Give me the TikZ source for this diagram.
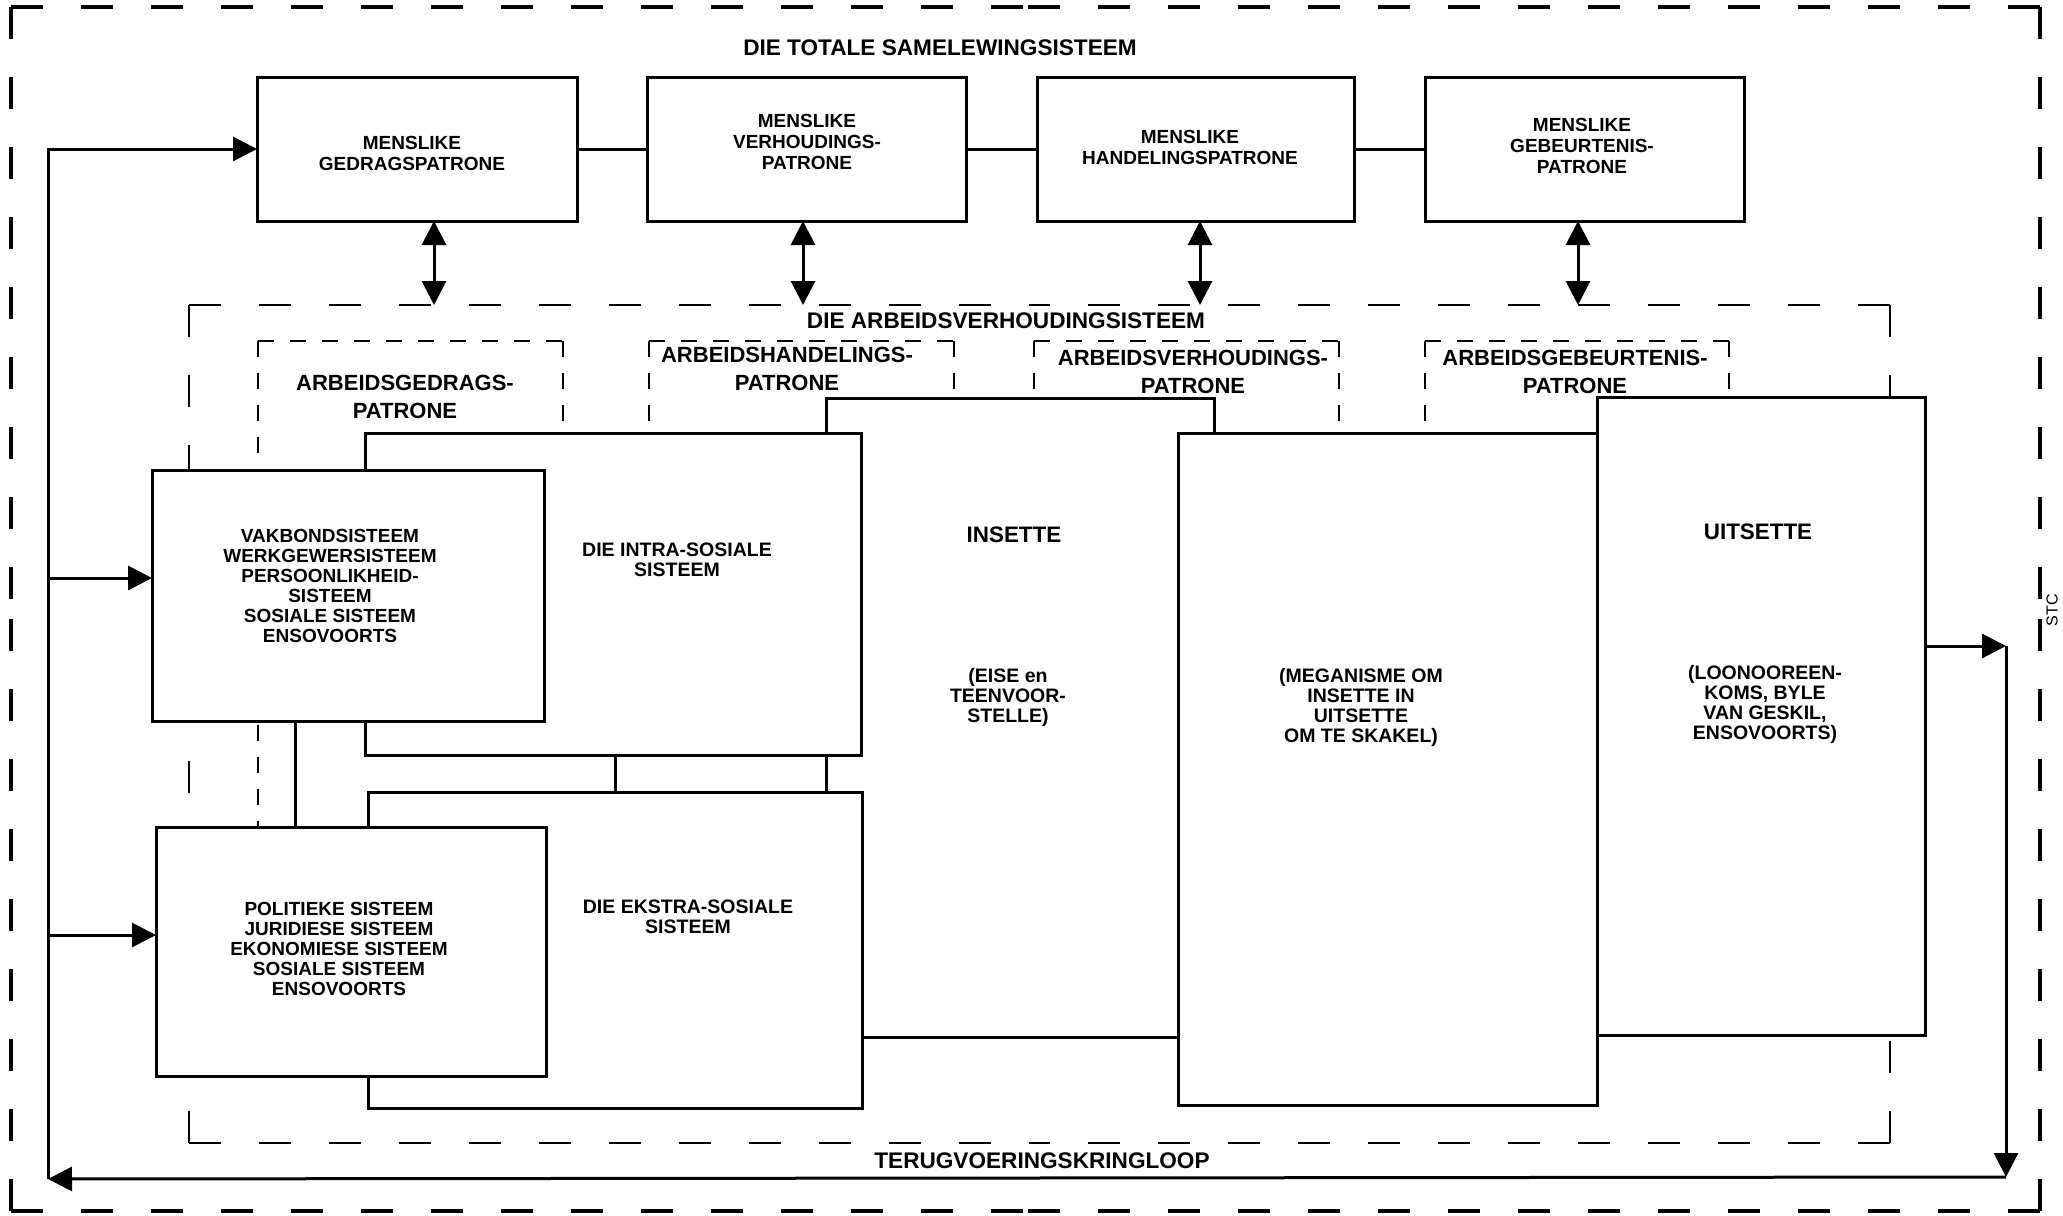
\documentclass[tikz,border=0pt]{standalone}
\usepackage{fontspec}
\setmainfont{Liberation Sans}
\usetikzlibrary{arrows.meta,fit,calc}
\newcommand{\fTitle}{\fontsize{11.3}{13}\selectfont\bfseries}
\newcommand{\fBox}{\fontsize{9.5}{10.5}\selectfont\bfseries}
\newcommand{\fLab}{\fontsize{11}{14}\selectfont\bfseries}
\newcommand{\fBig}{\fontsize{11.2}{13}\selectfont\bfseries}
\newcommand{\fDesc}{\fontsize{9.75}{10}\selectfont\bfseries}
\newcommand{\fList}{\fontsize{9.5}{10}\selectfont\bfseries}
\newcommand{\dside}[3]{\draw[#1] (#2) -- ($(#2)!0.5!(#3)$); \draw[#1] (#3) -- ($(#3)!0.5!(#2)$);}
\begin{document}
\begin{tikzpicture}[x=0.5pt,y=-0.5pt,
  solidbox/.style={draw, fill=white, line width=1.5pt, inner sep=0pt, outer sep=0pt},
  link/.style={line width=1.5pt},
  fatarrow/.style={line width=1.5pt, -{Triangle[length=12pt,width=12pt]}},
  dblarrow/.style={line width=1.5pt, {Triangle[length=12pt,width=12pt]}-{Triangle[length=12pt,width=12pt]}},
  outerdash/.style={line width=2pt, dash pattern=on 16pt off 19pt},
  innerdash/.style={line width=1.4pt, dash pattern=on 16pt off 19pt},
  smalldash/.style={line width=1pt, dash pattern=on 8pt off 8pt},
  txt/.style={align=center, inner sep=0pt},
]
\useasboundingbox (0,0) rectangle (2063,1216);
\fill[white] (0,0) rectangle (2063,1216);

% outer dashed border
\coordinate (oNW) at (11,7);
\coordinate (oNE) at (2040,7);
\coordinate (oSE) at (2040,1211);
\coordinate (oSW) at (11,1211);
\dside{outerdash}{oNW}{oNE}
\dside{outerdash}{oNE}{oSE}
\dside{outerdash}{oSE}{oSW}
\dside{outerdash}{oSW}{oNW}

% inner dashed rectangle (arbeidsverhoudingsisteem)
\coordinate (iNW) at (189,305);
\coordinate (iNE) at (1890,305);
\coordinate (iSE) at (1890,1143);
\coordinate (iSW) at (189,1143);
\dside{innerdash}{iNW}{iNE}
\dside{innerdash}{iNE}{iSE}
\dside{innerdash}{iSE}{iSW}
\dside{innerdash}{iSW}{iNW}

% small dashed pattern boxes
\draw[smalldash] (258,341) -- (258,827);
\draw[smalldash] (258,341) -- (563,341);
\draw[smalldash] (563,341) -- (563,433);
\draw[smalldash] (649,341) -- (649,433);
\draw[smalldash] (649,341) -- (954,341);
\draw[smalldash] (954,341) -- (954,398);
\draw[smalldash] (1034,341) -- (1034,398);
\draw[smalldash] (1034,341) -- (1339,341);
\draw[smalldash] (1339,341) -- (1339,433);
\draw[smalldash] (1425,341) -- (1425,433);
\draw[smalldash] (1425,341) -- (1729,341);
\draw[smalldash] (1729,341) -- (1729,397);

% top boxes
\node[solidbox, fit={(257,77)(577,221)}] (b1) {};
\node[solidbox, fit={(647,77)(966,221)}] (b2) {};
\node[solidbox, fit={(1037,77)(1354,221)}] (b3) {};
\node[solidbox, fit={(1425,77)(1744,221)}] (b4) {};
\draw[link] (b1.east) -- (b2.west);
\draw[link] (b2.east) -- (b3.west);
\draw[link] (b3.east) -- (b4.west);

% double arrows
\coordinate (d1) at (434,305);
\coordinate (d2) at (803,305);
\coordinate (d3) at (1200,305);
\coordinate (d4) at (1578,305);
\draw[dblarrow] (d1 |- b1.south) -- (d1);
\draw[dblarrow] (d2 |- b2.south) -- (d2);
\draw[dblarrow] (d3 |- b3.south) -- (d3);
\draw[dblarrow] (d4 |- b4.south) -- (d4);

% main boxes
\node[solidbox, fit={(826,398)(1214,1037)}] (ins) {};
\node[solidbox, fit={(365,433)(861,755)}] (intra) {};
\node[solidbox, fit={(368,792)(862,1108)}] (ekstra) {};
\node[solidbox, fit={(1178,433)(1597,1105)}] (meg) {};
\node[solidbox, fit={(1597,397)(1925,1035)}] (uit) {};
\node[solidbox, fit={(152,470)(544,721)}] (vak) {};
\node[solidbox, fit={(156,827)(546,1076)}] (pol) {};

% connectors between boxes
\coordinate (cVP) at (295,0);
\coordinate (cIE) at (615,0);
\draw[link] (cVP |- vak.south) -- (cVP |- pol.north);
\draw[link] (cIE |- intra.south) -- (cIE |- ekstra.north);

% feedback loop
\coordinate (rA) at (2006,646);
\coordinate (rB) at (2006,1177);
\coordinate (lB) at (48,1179);
\coordinate (lT) at (48,149);
\coordinate (lV) at (48,578);
\coordinate (lP) at (48,935);
\draw[fatarrow] (uit.east |- rA) -- (rA);
\draw[fatarrow] (rA) -- (rB);
\draw[fatarrow] (rB) -- (lB);
\draw[fatarrow] (lB) -- (lT) -- (b1.west);
\draw[fatarrow] (lV) -- (lV -| vak.west);
\draw[fatarrow] (lP) -- (lP -| pol.west);

% texts
\node[txt, font=\fTitle] (ttot) at (940,48) {DIE TOTALE SAMELEWINGSISTEEM};
\node[txt, font=\fBox] (t1) at (412,153) {MENSLIKE\\GEDRAGSPATRONE};
\node[txt, font=\fBox] (t2) at (807,142) {MENSLIKE\\VERHOUDINGS-\\PATRONE};
\node[txt, font=\fBox] (t3) at (1190,147) {MENSLIKE\\HANDELINGSPATRONE};
\node[txt, font=\fBox] (t4) at (1582,146) {MENSLIKE\\GEBEURTENIS-\\PATRONE};
\node[txt, font=\fTitle] (tarb) at (1006,321) {DIE ARBEIDSVERHOUDINGSISTEEM};
\node[txt, font=\fLab] (lag) at (405,397) {ARBEIDSGEDRAGS-\\PATRONE};
\node[txt, font=\fLab] (lah) at (787,369) {ARBEIDSHANDELINGS-\\PATRONE};
\node[txt, font=\fLab] (lav) at (1193,372) {ARBEIDSVERHOUDINGS-\\PATRONE};
\node[txt, font=\fLab] (lae) at (1575,372) {ARBEIDSGEBEURTENIS-\\PATRONE};
\node[txt, font=\fList] (tvak) at (330,586) {VAKBONDSISTEEM\\WERKGEWERSISTEEM\\PERSOONLIKHEID-\\SISTEEM\\SOSIALE SISTEEM\\ENSOVOORTS};
\node[txt, font=\fDesc] (tintra) at (677,560) {DIE INTRA-SOSIALE\\SISTEEM};
\node[txt, font=\fBig] (tins) at (1014,535) {INSETTE};
\node[txt, font=\fDesc] (tins2) at (1008,697) {(EISE en\\TEENVOOR-\\STELLE)};
\node[txt, font=\fDesc] (tmeg) at (1361,707) {(MEGANISME OM\\INSETTE IN\\UITSETTE\\OM TE SKAKEL)};
\node[txt, font=\fBig] (tuit) at (1758,532) {UITSETTE};
\node[txt, font=\fDesc] (tuit2) at (1765,704) {(LOONOOREEN-\\KOMS, BYLE\\VAN GESKIL,\\ENSOVOORTS)};
\node[txt, font=\fList] (tpol) at (339,949) {POLITIEKE SISTEEM\\JURIDIESE SISTEEM\\EKONOMIESE SISTEEM\\SOSIALE SISTEEM\\ENSOVOORTS};
\node[txt, font=\fDesc] (tek) at (688,917) {DIE EKSTRA-SOSIALE\\SISTEEM};
\node[txt, font=\fTitle] (tterug) at (1042,1161) {TERUGVOERINGSKRINGLOOP};
\node[txt, font=\fontsize{8}{8}\selectfont, rotate=90] (stc) at (2052,610) {STC};
\end{tikzpicture}
\end{document}
